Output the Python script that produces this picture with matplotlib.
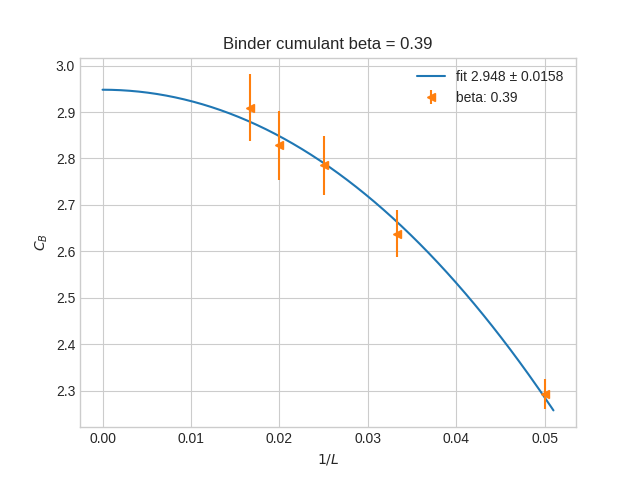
import numpy as np
import matplotlib
matplotlib.use("Agg")
import matplotlib.pyplot as plt

plt.style.use("seaborn-v0_8-whitegrid")

# data points
inv_L = [1/60, 1/50, 1/40, 1/30, 1/20]
cb = [2.909, 2.828, 2.785, 2.638, 2.292]
cb_err = [0.072, 0.075, 0.063, 0.050, 0.032]

# fit coefficients (c0 + c2 x^2 + c3 x^3)
fit_c0 = 2.948
fit_c2 = -240.0
fit_c3 = -500.0

fig, ax = plt.subplots(figsize=(6.4, 4.8), dpi=100)
xs = np.linspace(0, 0.051, 200)
ax.plot(xs, fit_c0 + fit_c2 * xs**2 + fit_c3 * xs**3, color="C0", label="fit 2.948 ± 0.0158")
ax.errorbar(inv_L, cb, yerr=cb_err, fmt="<", color="C1", markersize=6, label="beta: 0.39")

ax.set_title("Binder cumulant beta = 0.39")
ax.set_xlabel("$1/L$")
ax.set_ylabel("$C_B$")
for s in ax.spines.values():
    s.set_visible(True)
    s.set_color("#cccccc")
ax.legend(loc="upper right")
fig.savefig("out.png")
